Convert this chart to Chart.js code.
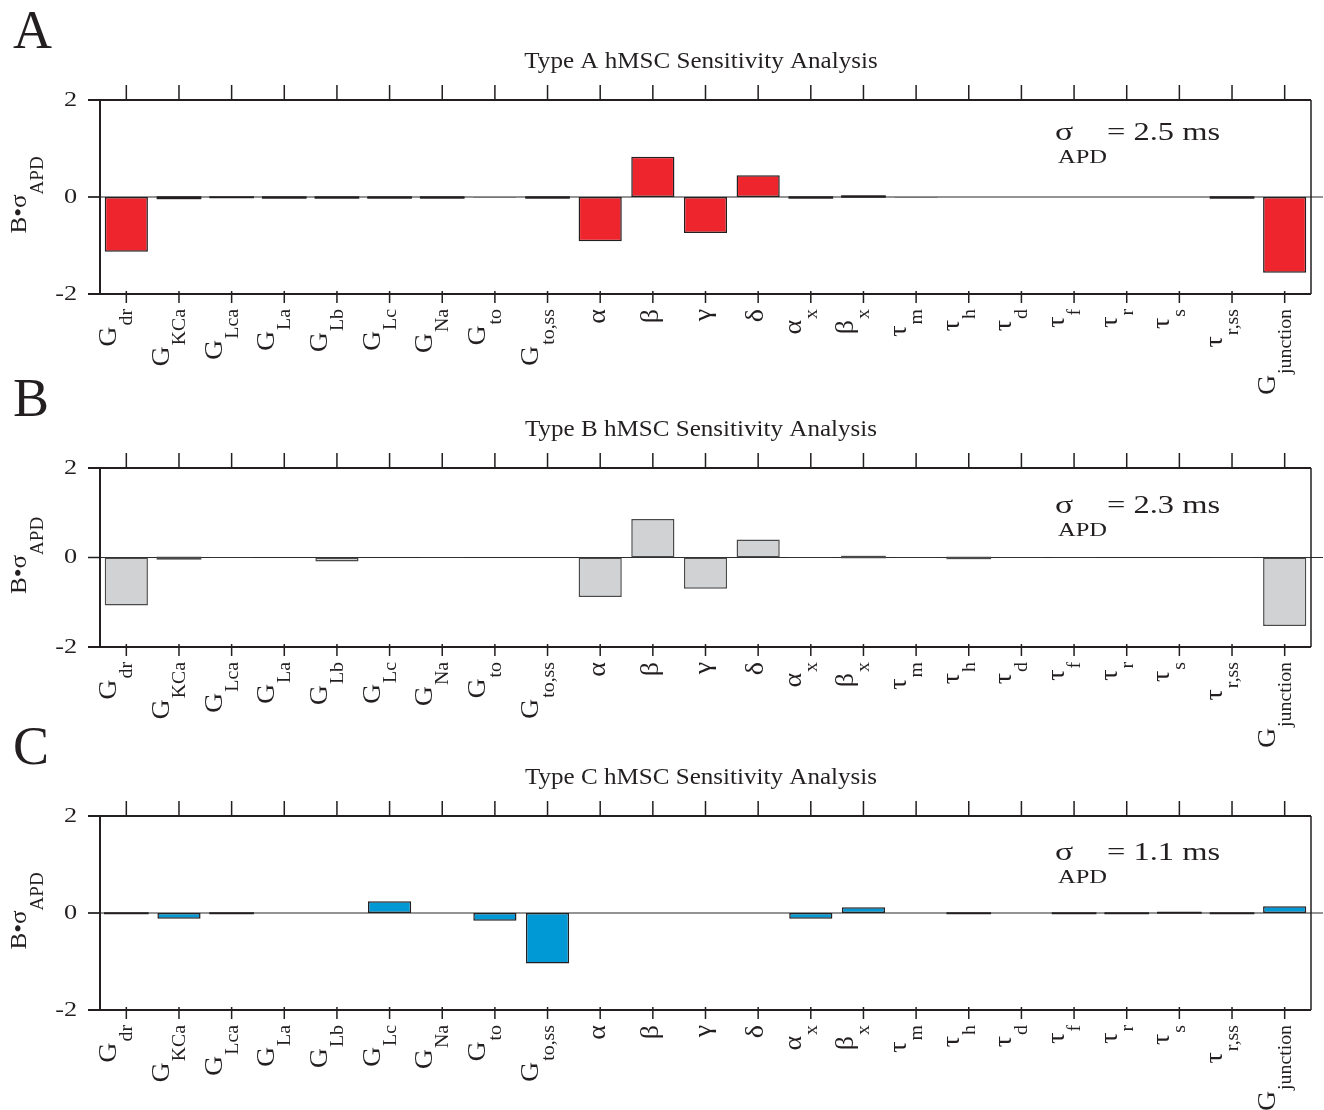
<!DOCTYPE html>
<html>
<head>
<meta charset="utf-8">
<script src="https://cdn.jsdelivr.net/npm/chart.js@4.4.1/dist/chart.umd.min.js"></script>
<style>
    body { margin: 0; background: #fff; }
    #wrap { position: relative; width: 1324px; height: 1110px; overflow: hidden; }
    .panel { position: absolute; left: 0; }
</style>
</head>
<body>
<div id="wrap">
    <div class="panel" style="top:0px"><canvas id="chartA" width="1324" height="400"></canvas></div>
    <div class="panel" style="top:370px"><canvas id="chartB" width="1324" height="380"></canvas></div>
    <div class="panel" style="top:720px"><canvas id="chartC" width="1324" height="390"></canvas></div>
</div>
<script>
        // Data
        const categories = ['G_dr', 'G_KCa', 'G_Lca', 'G_La', 'G_Lb', 'G_Lc', 'G_Na', 'G_to', 'G_to,ss',
            'α', 'β', 'γ', 'δ', 'α_x', 'β_x', 'τ_m', 'τ_h', 'τ_d', 'τ_f', 'τ_r', 'τ_s', 'τ_r,ss', 'G_junction'];
        const yTicks = [-2, 0, 2];
        const typeA = [-1.13, -0.03, -0.01, -0.02, -0.02, -0.02, -0.02, -0.008, -0.02, -0.91, 0.83, -0.74, 0.45,
            -0.02, 0.02, -0.008, 0, 0, 0, 0, 0, -0.02, -1.56];
        const typeB = [-1.07, -0.03, -0.01, 0, -0.09, 0, 0.01, 0, 0, -0.88, 0.86, -0.70, 0.40,
            -0.01, 0.02, 0.01, -0.02, 0.01, 0.01, 0, 0, 0.01, -1.53];
        const typeC = [-0.01, -0.12, -0.01, 0, 0, 0.24, 0, -0.16, -1.04, 0, 0, 0, 0,
            -0.12, 0.12, 0, -0.01, 0, -0.01, -0.01, 0.01, -0.01, 0.14];
        const sigmaA = '= 2.5 ms';
        const sigmaB = '= 2.3 ms';
        const sigmaC = '= 1.1 ms';

        const FONT = '"Liberation Serif", "Times New Roman", serif';

        // stretched text (the figure's type is wider than Times)
        function txt(ctx, s, x, y, size, sx, align) {
            ctx.save();
            ctx.font = size + 'px ' + FONT;
            ctx.translate(x, y);
            ctx.scale(sx, 1);
            ctx.textAlign = align || 'left';
            ctx.fillText(s, 0, 0);
            ctx.restore();
        }
        function textW(ctx, s, size, sx) {
            ctx.font = size + 'px ' + FONT;
            return ctx.measureText(s).width * sx;
        }

        // Axes, labels and annotations
        const decor = {
            id: 'decor',
            beforeDatasetsDraw(chart, args, opts) {
                const ctx = chart.ctx;
                const ca = chart.chartArea;
                const y0 = chart.scales.y.getPixelForValue(0);
                ctx.save();
                ctx.strokeStyle = '#2b2b2b';
                ctx.lineWidth = 1.2;
                ctx.beginPath();
                ctx.moveTo(ca.left - 12, y0);
                ctx.lineTo(ca.right + 12, y0);
                ctx.stroke();
                ctx.restore();
            },
            afterDatasetsDraw(chart, args, opts) {
                // very short bars: the outline shows as a dark line
                const ctx = chart.ctx;
                const meta = chart.getDatasetMeta(0);
                const ds = chart.data.datasets[0];
                ctx.save();
                ctx.strokeStyle = ds.borderColor;
                ctx.lineWidth = 1.5;
                meta.data.forEach(bar => {
                    const h = Math.abs(bar.base - bar.y);
                    if (h >= 0.45 && h < 3) {
                        ctx.strokeRect(bar.x - bar.width / 2, Math.min(bar.y, bar.base), bar.width, h);
                    }
                });
                ctx.restore();
            },
            afterDraw(chart, args, opts) {
                const ctx = chart.ctx;
                const ca = chart.chartArea;
                const xs = chart.scales.x;
                const ys = chart.scales.y;
                ctx.save();
                ctx.strokeStyle = '#231f20';
                ctx.fillStyle = '#231f20';

                // frame
                ctx.lineWidth = 2;
                ctx.beginPath();
                ctx.moveTo(ca.left - 12, ca.top); ctx.lineTo(ca.right, ca.top);
                ctx.moveTo(ca.left - 12, ca.bottom); ctx.lineTo(ca.right, ca.bottom);
                ctx.moveTo(ca.left, ca.top); ctx.lineTo(ca.left, ca.bottom);
                ctx.stroke();
                ctx.lineWidth = 1.5;
                ctx.beginPath();
                ctx.moveTo(ca.right, ca.top); ctx.lineTo(ca.right, ca.bottom);
                ctx.stroke();

                // y ticks
                yTicks.forEach(v => {
                    const py = ys.getPixelForValue(v);
                    ctx.beginPath();
                    ctx.moveTo(ca.left - 12, py); ctx.lineTo(ca.left, py);
                    ctx.stroke();
                    ctx.textBaseline = 'middle';
                    txt(ctx, String(v), ca.left - 23, py, 21, 1.25, 'right');
                });
                ctx.textBaseline = 'alphabetic';

                // x ticks (top and bottom) + rotated labels
                categories.forEach((c, i) => {
                    const px = xs.getPixelForValue(i);
                    ctx.lineWidth = 1.5;
                    ctx.beginPath();
                    ctx.moveTo(px, ca.top - 15); ctx.lineTo(px, ca.top);
                    ctx.moveTo(px, ca.bottom - 3); ctx.lineTo(px, ca.bottom + 9);
                    ctx.stroke();

                    const k = c.indexOf('_');
                    const main = k < 0 ? c : c.slice(0, k);
                    const sub = k < 0 ? '' : c.slice(k + 1);
                    ctx.save();
                    ctx.translate(px, ca.bottom + 15);
                    ctx.rotate(-Math.PI / 2);
                    if (sub) {
                        const sw = textW(ctx, sub, 18, 1.1);
                        txt(ctx, sub, 0, 6, 18, 1.1, 'right');
                        txt(ctx, main, -sw - 1, -10, 25, 1.12, 'right');
                    } else {
                        txt(ctx, main, 0, 5, 25, 1.12, 'right');
                    }
                    ctx.restore();
                });

                // y axis title B•σAPD
                const midY = (ca.top + ca.bottom) / 2 - 2;
                const wm = textW(ctx, 'B•σ', 24, 1.05);
                const ws = textW(ctx, 'APD', 19, 1.0);
                ctx.save();
                ctx.translate(26, midY);
                ctx.rotate(-Math.PI / 2);
                txt(ctx, 'B•σ', -(wm + ws) / 2, 0, 24, 1.05, 'left');
                txt(ctx, 'APD', -(wm + ws) / 2 + wm, 17, 19, 1.0, 'left');
                ctx.restore();

                // title
                txt(ctx, opts.title, 701, ca.top - 32, 23, 1.09, 'center');

                // panel letter
                txt(ctx, opts.letter, 13, ca.top - 52, 54, 1.0, 'left');

                // sigma annotation
                const by = ca.top + opts.sigmaDy;
                txt(ctx, 'σ', ca.right - 256, by, 26, 1.3, 'left');
                txt(ctx, 'APD', ca.right - 253, by + 23, 19, 1.29, 'left');
                txt(ctx, opts.sigma, ca.right - 204, by, 25, 1.3, 'left');

                ctx.restore();
            }
        };

        function makePanel(id, values, fill, edge, pad, decorOpts) {
            const ctx = document.getElementById(id).getContext('2d');
            return new Chart(ctx, {
                type: 'bar',
                data: {
                    labels: categories,
                    datasets: [{
                        data: values,
                        backgroundColor: fill,
                        borderColor: edge,
                        borderWidth: 1.5,
                        borderSkipped: false,
                        categoryPercentage: 1,
                        barPercentage: 0.82
                    }]
                },
                options: {
                    responsive: false,
                    animation: false,
                    devicePixelRatio: 1,
                    layout: { padding: pad },
                    plugins: {
                        legend: { display: false },
                        tooltip: { enabled: false },
                        decor: decorOpts
                    },
                    scales: {
                        x: { type: 'category', display: false, offset: true },
                        y: { display: false, min: -2, max: 2 }
                    }
                },
                plugins: [decor]
            });
        }

        makePanel('chartA', typeA, '#ee252d', '#231f20',
            { top: 100, bottom: 106, left: 100, right: 13 },
            { title: 'Type A hMSC Sensitivity Analysis', letter: 'A', sigma: sigmaA, sigmaDy: 40 });
        makePanel('chartB', typeB, '#d1d2d3', '#4a4a4a',
            { top: 98, bottom: 103, left: 100, right: 13 },
            { title: 'Type B hMSC Sensitivity Analysis', letter: 'B', sigma: sigmaB, sigmaDy: 45 });
        makePanel('chartC', typeC, '#0099d5', '#231f20',
            { top: 96, bottom: 100, left: 100, right: 13 },
            { title: 'Type C hMSC Sensitivity Analysis', letter: 'C', sigma: sigmaC, sigmaDy: 44 });
</script>
</body>
</html>
